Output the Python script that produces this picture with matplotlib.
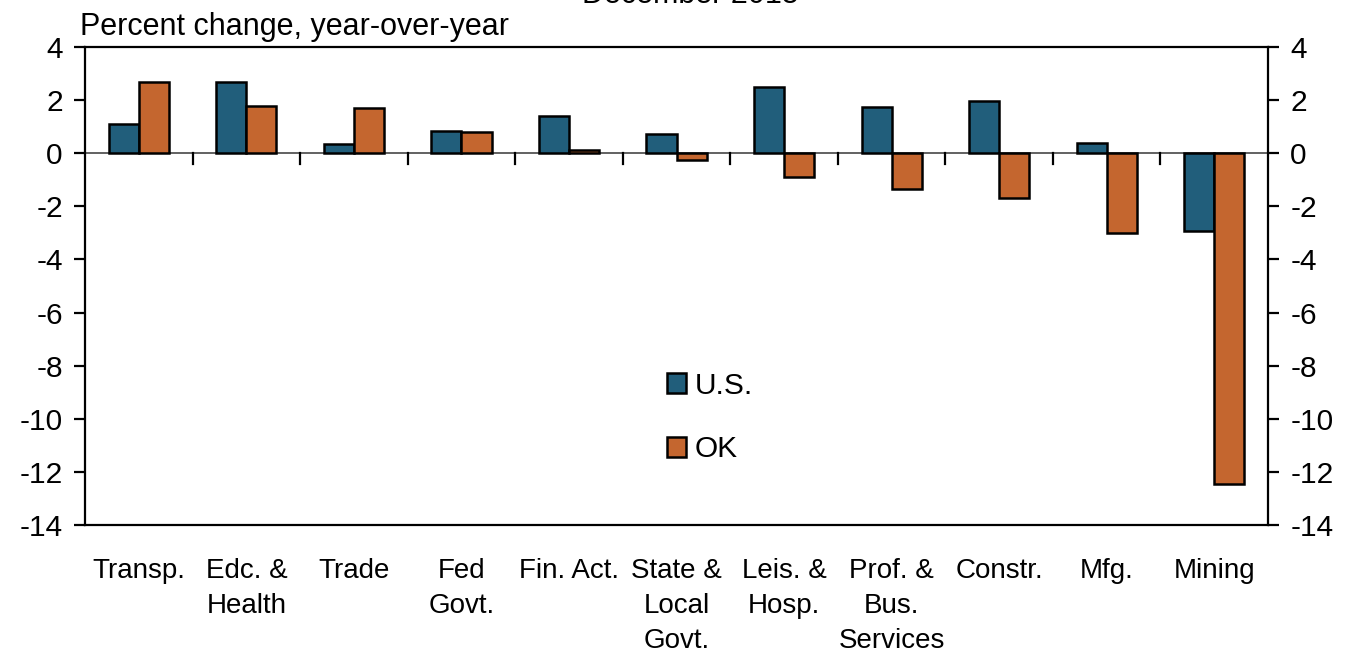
import numpy as np
import matplotlib
matplotlib.use("Agg")
import matplotlib.pyplot as plt

# values (percent change, year-over-year)
sectors = ["Transp.", "Edc. &\nHealth", "Trade", "Fed\nGovt.", "Fin. Act.",
           "State &\nLocal\nGovt.", "Leis. &\nHosp.", "Prof. &\nBus.\nServices",
           "Constr.", "Mfg.", "Mining"]
us_vals = [1.10, 2.70, 0.36, 0.85, 1.41, 0.72, 2.48, 1.73, 1.97, 0.39, -2.93]
ok_vals = [2.67, 1.76, 1.72, 0.81, 0.13, -0.24, -0.88, -1.35, -1.69, -3.02, -12.45]

US_COLOR = "#215E7B"
OK_COLOR = "#C4662F"

plt.rcParams['font.family'] = ['Liberation Sans', 'DejaVu Sans']
plt.rcParams['axes.unicode_minus'] = False

fig = plt.figure(figsize=(13.54, 6.52), dpi=100)
ax = fig.add_axes([0.0628, 0.1948, 0.8737, 0.7331])

x = np.arange(len(sectors))
w = 0.28
ax.bar(x - w / 2, us_vals, w, color=US_COLOR, edgecolor="black", linewidth=1.8, label="U.S.", zorder=3)
ax.bar(x + w / 2, ok_vals, w, color=OK_COLOR, edgecolor="black", linewidth=1.8, label="OK", zorder=3)

ax.set_xlim(-0.5, len(sectors) - 0.5)
ax.set_ylim(-14, 4)
ax.set_yticks(np.arange(-14, 5, 2))

# zero line with category separator ticks hanging below it
ax.axhline(0, color="#555555", linewidth=1.3, zorder=2)
for b in np.arange(0.5, len(sectors) - 0.5, 1):
    ax.plot([b, b], [0, -0.4], color="black", linewidth=1.6, zorder=2)

ax.set_xticks(x)
ax.set_xticklabels(sectors, fontsize=20, va="top", linespacing=1.45)
ax.tick_params(axis="x", length=0, pad=24)
ax.tick_params(axis="y", direction="out", length=8, width=1.6, labelsize=21.5, pad=8,
               right=True, labelright=True)
for s in ax.spines.values():
    s.set_linewidth(1.6)

ax.legend(loc="center left", bbox_to_anchor=(0.469, 0.225), frameon=False, fontsize=21.5,
          handlelength=0.65, handleheight=0.65, handletextpad=0.3, labelspacing=1.2)

fig.text(0.059, 0.947, "Percent change, year-over-year", fontsize=22, ha="left", va="baseline")
fig.text(0.51, 1 - 3 / 652, "December 2015", fontsize=22, ha="center", va="baseline")

fig.savefig("out.png", dpi=100)
